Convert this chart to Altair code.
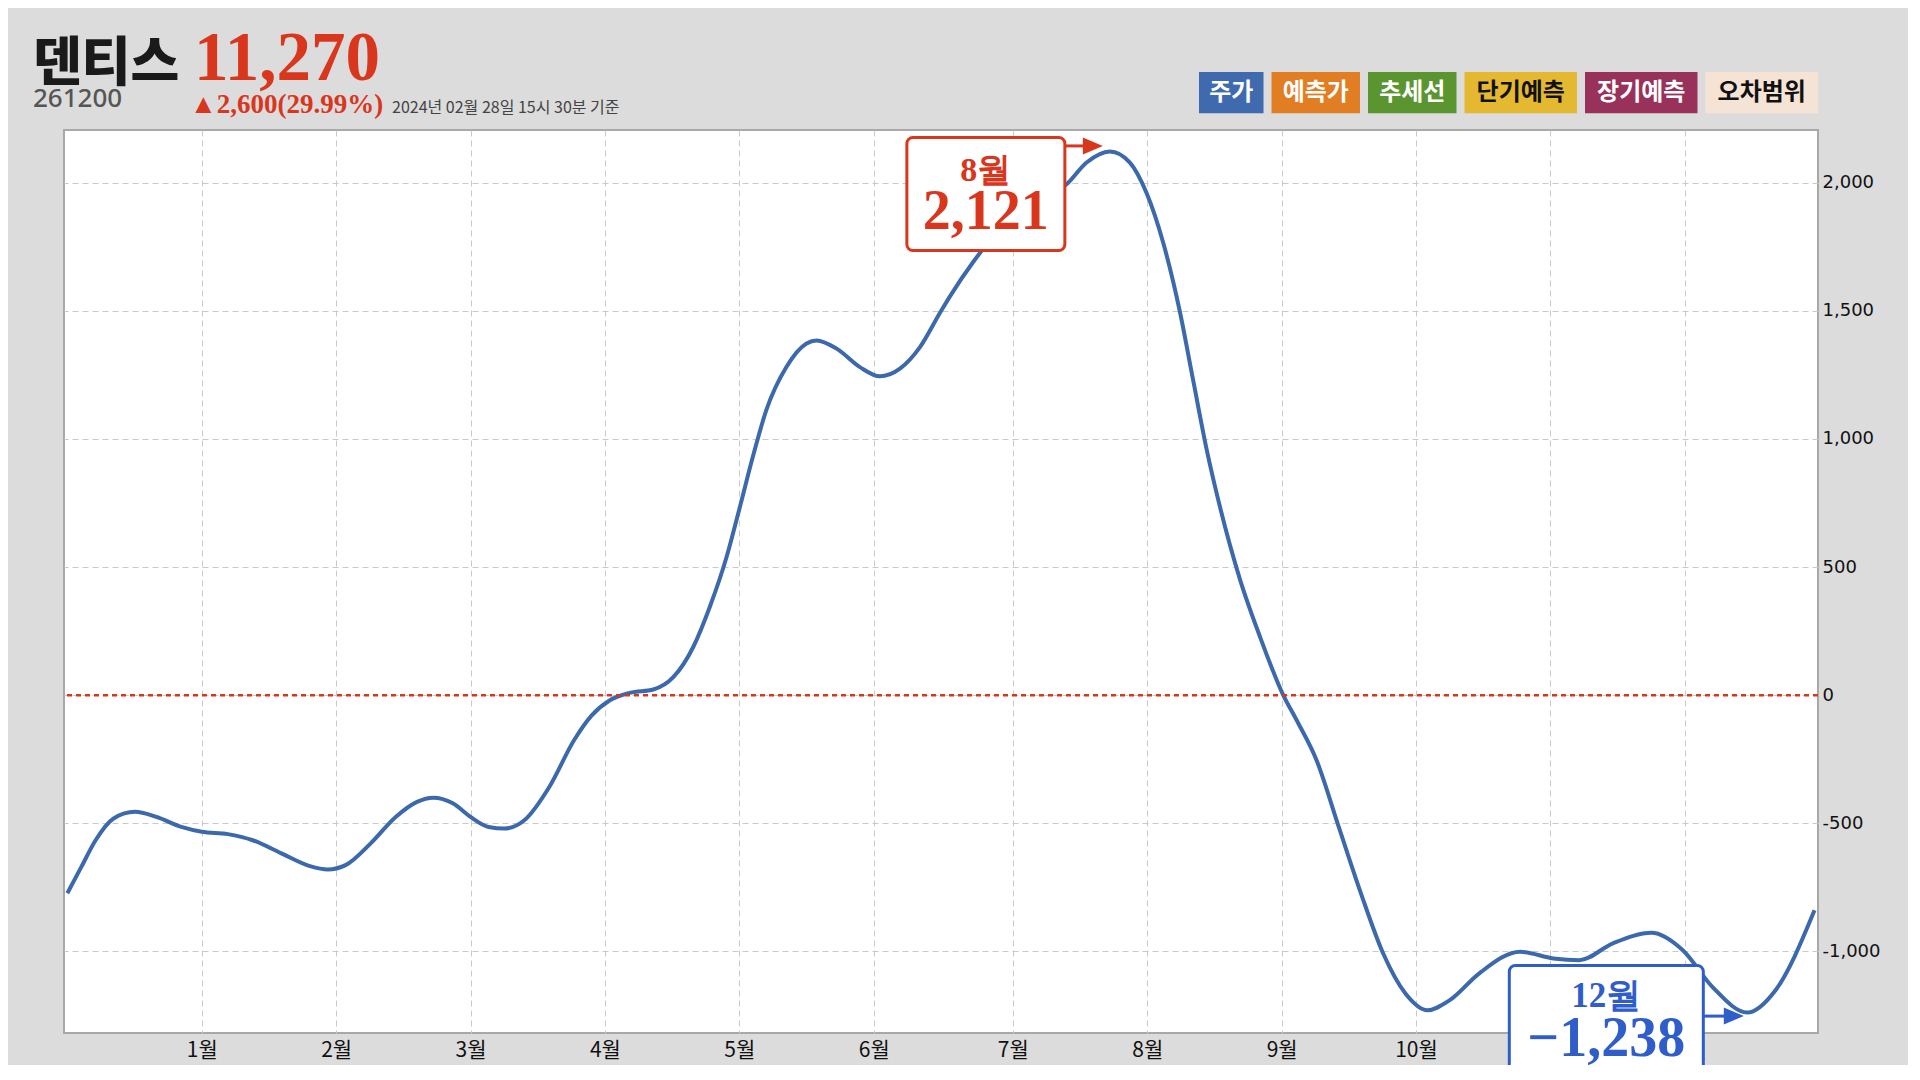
import altair as alt
import pandas as pd

# ---------------- data ----------------
TITLE_NAME = "덴티스"
TICKER = "261200"
PRICE = "11,270"
CHANGE = "▲2,600(29.99%)"
TIMESTAMP = "2024년 02월 28일 15시 30분 기준"

legend_labels = ["주가", "예측가", "추세선", "단기예측", "장기예측", "오차범위"]
legend_fills = ["#3F6BAE", "#E17E23", "#5B9530", "#E4B830", "#99325B", "#F5E3D5"]
legend_text_colors = ["#FFFFFF", "#FFFFFF", "#FFFFFF", "#111111", "#FFFFFF", "#111111"]

month_tick_values = [1, 2, 3, 4, 5, 6, 7.035, 8.035, 9.035, 10.035, 11.035, 12.035]
month_tick_labels = ["1월", "2월", "3월", "4월", "5월", "6월", "7월", "8월", "9월", "10월", "11월", "12월"]
y_tick_values = [-1000, -500, 0, 500, 1000, 1500, 2000]

months = [0.0, 0.104, 0.21, 0.344, 0.503, 0.662, 0.848, 1.0, 1.194, 1.38,
          1.592, 1.805, 1.938, 2.07, 2.257, 2.443, 2.602, 2.722, 2.868, 3.0,
          3.134, 3.253, 3.40, 3.586, 3.77, 3.90, 4.037, 4.186, 4.36, 4.51,
          4.657, 4.78, 4.905, 5.004, 5.10, 5.20, 5.35, 5.50, 5.575, 5.724,
          5.897, 6.046, 6.195, 6.344, 6.49, 6.566, 6.74, 6.9, 7.1, 7.3,
          7.435, 7.584, 7.757, 7.906, 8.03, 8.154, 8.278, 8.377, 8.477, 8.576,
          8.725, 8.874, 9.047, 9.146, 9.295, 9.46, 9.625, 9.79, 9.955, 10.12,
          10.286, 10.506, 10.81, 11.057, 11.25, 11.50, 11.787, 12.02, 12.24, 12.50,
          12.71, 13.0]
values = [-773, -670, -566, -481, -455, -475, -514, -533, -542, -566,
          -617, -667, -680, -663, -578, -475, -416, -400, -422, -475,
          -514, -520, -488, -358, -176, -80, -20, 9, 22, 71,
          188, 344, 539, 734, 929, 1111, 1280, 1372, 1384, 1352,
          1280, 1244, 1274, 1358, 1489, 1555, 1690, 1795, 1880, 1945,
          1993, 2078, 2121, 2078, 1959, 1765, 1496, 1228, 959, 735,
          452, 228, 0, -97, -254, -514, -773, -1007, -1163, -1229,
          -1190, -1085, -1001, -1027, -1034, -968, -927, -995, -1138, -1238,
          -1151, -839]

callout_month_labels = ["8월", "12월"]
callout_value_labels = ["2,121", "−1,238"]

# ---------------- styles ----------------
RED = "#D9361E"
BLUE_TXT = "#2F5DC9"
LINE_BLUE = "#3C69AC"
KFONT = "Noto Sans CJK KR"
SERIF = "Liberation Serif"

X_DOMAIN = [-0.025, 13.026]
Y_DOMAIN = [-1318, 2205]

df = pd.DataFrame({"month": months, "value": values})
peak_df = df.loc[[df["value"].idxmax()]]
trough_df = df.loc[[df["value"].idxmin()]]

xs = alt.Scale(domain=X_DOMAIN, nice=False, zero=False)
ys = alt.Scale(domain=Y_DOMAIN, nice=False, zero=False)

y_label_expr = "(datum.value < 0 ? '-' : '') + format(abs(datum.value), ',')"
x_label_expr = "[" + ",".join("'" + s + "'" for s in month_tick_labels) + "][round(datum.value) - 1]"

X = alt.X("month:Q", scale=xs, axis=alt.Axis(
    values=month_tick_values, labelExpr=x_label_expr, title=None, orient="bottom",
    grid=True, gridDash=[6, 4], gridColor="#C9C9C9", gridWidth=1,
    ticks=False, domain=False, labelFont=KFONT, labelFontSize=21, labelColor="#111111",
    labelPadding=6, labelBaseline="top"))
Y = alt.Y("value:Q", scale=ys, axis=alt.Axis(
    values=y_tick_values, labelExpr=y_label_expr, title=None, orient="right",
    grid=True, gridDash=[6, 4], gridColor="#C9C9C9", gridWidth=1,
    ticks=False, domain=False, labelFont="DejaVu Sans", labelFontSize=18,
    labelColor="#111111", labelPadding=4))

line = alt.Chart(df).mark_line(color=LINE_BLUE, strokeWidth=4, interpolate="monotone").encode(x=X, y=Y)

zero = alt.Chart(pd.DataFrame({"value": [0]})).mark_rule(
    color=RED, strokeWidth=2.5, strokeDash=[5, 4]).encode(y=alt.Y("value:Q", scale=ys))

ARROW = "M-1,-0.85L1,0L-1,0.85Z"


def callout(anchor_df, color, box, arrow_y, arrow_x, head_x, label_dx, dy1, dy2, lab1, lab2, s1, s2):
    base = alt.Chart(anchor_df).encode(x=alt.X("month:Q", scale=xs), y=alt.Y("value:Q", scale=ys))
    rect = alt.Chart(anchor_df).mark_rect(
        fill="white", stroke=color, strokeWidth=3, cornerRadius=6,
        xOffset=box[0], x2Offset=box[1], yOffset=box[2], y2Offset=box[3]).encode(
        x=alt.X("month:Q", scale=xs), x2="month:Q",
        y=alt.Y("value:Q", scale=ys), y2="value:Q")
    shaft = alt.Chart(anchor_df).mark_rule(
        color=color, strokeWidth=3, xOffset=arrow_x[0], x2Offset=arrow_x[1], yOffset=arrow_y).encode(
        x=alt.X("month:Q", scale=xs), x2="month:Q", y=alt.Y("value:Q", scale=ys))
    head = base.mark_point(shape=ARROW, filled=True, fill=color, stroke=None, size=400, opacity=1,
                           xOffset=head_x, yOffset=arrow_y)
    t1 = base.mark_text(text=lab1, font=SERIF, fontWeight="bold", fontSize=s1, color=color,
                        align="center", baseline="alphabetic", dx=label_dx, dy=dy1)
    t2 = base.mark_text(text=lab2, font=SERIF, fontWeight="bold", fontSize=s2, color=color,
                        align="center", baseline="alphabetic", dx=label_dx, dy=dy2)
    return [shaft, head, rect, t1, t2]


peak_layers = callout(peak_df, RED, (-203, -45, -14, 99), -5.6, (-45, -26), -17, -124, 29, 77,
                      callout_month_labels[0], callout_value_labels[0], 34, 56)
trough_layers = callout(trough_df, BLUE_TXT, (-238, -44, -47, 66), 3.6, (-44, -23), -13.5, -141, -5, 44,
                        callout_month_labels[1], callout_value_labels[1], 35, 56)

one = alt.Data(values=[{"k": 1}])


def txt(s, x, y, size, color, font, weight="normal", align="left", baseline="alphabetic"):
    return alt.Chart(one).mark_text(text=s, fontSize=size, color=color, font=font, fontWeight=weight,
                                    align=align, baseline=baseline).encode(x=alt.value(x), y=alt.value(y))


header = [
    txt(TITLE_NAME, -31, -49, 53, "#1A1A1A", KFONT, 900),
    txt(TICKER, -31, -23, 26, "#555555", "Noto Sans", 500),
    txt(PRICE, 130, -50, 69, RED, SERIF, "bold"),
    txt(CHANGE, 126, -17, 27, RED, SERIF, "bold"),
    txt(TIMESTAMP, 328, -17, 16, "#444444", KFONT),
]

# legend boxes laid out right-aligned to the plot's right edge
PLOT_W, PLOT_H = 1754, 903
widths = [24 * len(s) + 16.5 for s in legend_labels]
gap = 8
x_right = PLOT_W
positions = []
for w in reversed(widths):
    positions.append((x_right - w, x_right))
    x_right -= w + gap
positions = list(reversed(positions))

legend_layers = []
for lab, fill, tc, (x0, x1) in zip(legend_labels, legend_fills, legend_text_colors, positions):
    legend_layers.append(alt.Chart(one).mark_rect(fill=fill).encode(
        x=alt.value(x0), x2=alt.value(x1), y=alt.value(-58), y2=alt.value(-16.7)))
    legend_layers.append(txt(lab, (x0 + x1) / 2, -37, 24, tc, KFONT, "bold", "center", "middle"))

chart = alt.layer(line, zero, *peak_layers, *trough_layers, *header, *legend_layers).properties(
    width=PLOT_W, height=PLOT_H,
    padding={"left": 56, "top": 122, "right": 90, "bottom": 32},
    autosize=alt.AutoSizeParams(type="none"),
    background="#DCDCDC",
).configure_view(fill="white", stroke="#A8A8A8", strokeWidth=2)

chart.save("out.html", embed_options={"renderer": "svg", "actions": False})
